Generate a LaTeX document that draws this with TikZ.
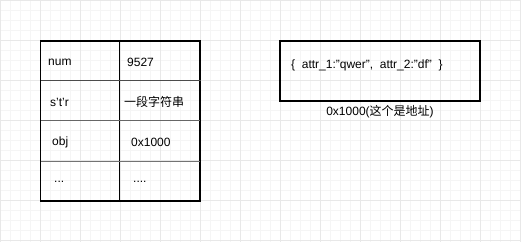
\documentclass[tikz,border=0pt]{standalone}
\usepackage{fontspec}
\setmainfont{Liberation Sans}
\newfontfamily\cjk{Noto Sans CJK SC}
\begin{document}
\begin{tikzpicture}[x=1pt,y=-1pt,
  cell/.style={anchor=west,font=\fontsize{12}{14}\selectfont,inner sep=0pt},
  boxline/.style={draw=black,line width=1.2pt}]
\useasboundingbox (0,0) rectangle (521,242);
\fill[white] (0,0) rectangle (521,242);
% grid
\foreach \i in {0,10,...,520} \draw[color=black!4,line width=0.6pt] (\i+0.5,0) -- (\i+0.5,242);
\foreach \i in {0,10,...,240} \draw[color=black!4,line width=0.6pt] (0,\i+0.5) -- (521,\i+0.5);
\foreach \i in {0,40,...,520} \draw[color=black!9,line width=0.8pt] (\i+0.5,0) -- (\i+0.5,242);
\foreach \i in {0,40,...,240} \draw[color=black!9,line width=0.8pt] (0,\i+0.5) -- (521,\i+0.5);
% table
\coordinate (tl) at (40.5,41);
\coordinate (br) at (200,201);
\draw[boxline] (tl) rectangle (br);
\draw[boxline] (119.5,41) -- (119.5,201);
\draw[line width=1.2pt,color=black!70] (40.5,80.7) -- (201,80.7);
\draw[line width=1.2pt,color=black!60] (40.5,120.7) -- (200,120.7);
\draw[line width=1.2pt,color=black!55] (40.5,161.5) -- (200,161.5);
\node[cell] (n1) at (48,62) {num};
\node[cell] (v1) at (127,62) {9527};
\node[cell] (n2) at (50,102) {s't'r};
\node[cell] (v2) at (124,102) {\cjk 一段字符串};
\node[cell] (n3) at (52,142) {obj};
\node[cell] (v3) at (131,142) {0x1000};
\node[cell] (n4) at (54,182) {...};
\node[cell] (v4) at (133,182) {....};
% object box
\node[boxline,minimum width=200pt,minimum height=60pt,inner sep=0pt] (obj) at (380,71) {};
\node[cell] (objtext) at (291,65) {\{\ \ attr\_1:"qwer",\ \ attr\_2:"df"\ \ \}};
\node[font=\fontsize{12}{14}\selectfont,inner sep=0pt] (addr) at (380,112) {0x1000(\cjk 这个是地址\rmfamily)};
\end{tikzpicture}
\end{document}
